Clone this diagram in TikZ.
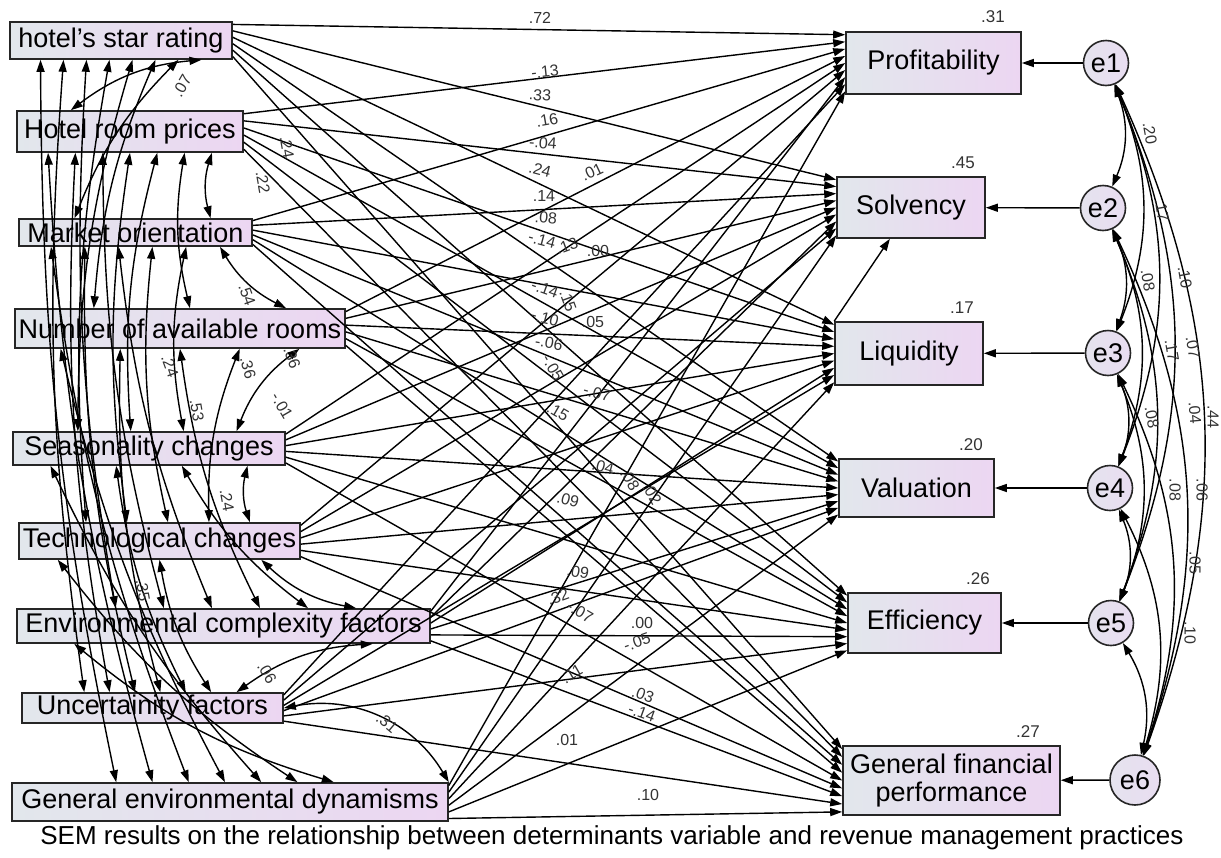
\documentclass[tikz,border=0pt]{standalone}
\usepackage{fontspec}
\setmainfont{Liberation Sans}
\usetikzlibrary{arrows.meta,calc}

\definecolor{boxleft}{HTML}{E2E7EC}
\definecolor{boxright}{HTML}{ECD6F2}
\definecolor{errfill}{HTML}{E9DDF1}
\definecolor{coefgray}{HTML}{333333}

\tikzset{
  obsbox/.style={draw=black!85, line width=0.8pt, left color=boxleft, right color=boxright,
                 inner sep=0pt, font=\fontsize{13.5}{15}\selectfont},
  errcirc/.style={circle, draw=black!85, line width=0.8pt, left color=boxleft!60!errfill, right color=errfill,
                  inner sep=0pt, minimum size=22.5pt, font=\fontsize{13.5}{15}\selectfont},
  regpath/.style={-{Triangle[length=6pt,width=4pt]}, line width=0.7pt},
  covpath/.style={{Triangle[length=6pt,width=4pt]}-{Triangle[length=6pt,width=4pt]}, line width=0.7pt},
  coef/.style={font=\fontsize{8}{9}\selectfont, text=coefgray, inner sep=0.5pt},
  rsq/.style={font=\fontsize{8.5}{9}\selectfont, text=coefgray, inner sep=0.5pt},
}

\begin{document}
\begin{tikzpicture}[x=0.5pt, y=-0.5pt]
\useasboundingbox (0,0) rectangle (1221,857);

% determinants (left column)
\node[obsbox, minimum width=111pt, minimum height=18.5pt] (b1) at (121,40.5) {hotel's star rating};
\node[obsbox, minimum width=113pt, minimum height=20.5pt] (b2) at (130,131.5) {Hotel room prices};
\node[obsbox, minimum width=116.5pt, minimum height=13.5pt] (b3) at (135.5,232.5) {Market orientation};
\node[obsbox, minimum width=165pt, minimum height=19.5pt] (b4) at (180,328.5) {Number of available rooms};
\node[obsbox, minimum width=136pt, minimum height=16.5pt] (b5) at (149,448.5) {Seasonality changes};
\node[obsbox, minimum width=140.5pt, minimum height=18pt] (b6) at (159.5,541) {Technological changes};
\node[obsbox, minimum width=206.5pt, minimum height=17pt] (b7) at (223.5,626) {Environmental complexity factors};
\node[obsbox, minimum width=130.5pt, minimum height=15pt] (b8) at (152.5,708) {Uncertainity factors};
\node[obsbox, minimum width=218pt, minimum height=19pt] (b9) at (230,802) {General environmental dynamisms};

% revenue management practices (right column)
\node[obsbox, minimum width=87.5pt, minimum height=31pt] (t1) at (933.5,63) {Profitability};
\node[obsbox, minimum width=74pt, minimum height=30.5pt] (t2) at (911,207.5) {Solvency};
\node[obsbox, minimum width=74pt, minimum height=31.5pt] (t3) at (909,353.5) {Liquidity};
\node[obsbox, minimum width=77.5pt, minimum height=29pt] (t4) at (916.5,488) {Valuation};
\node[obsbox, minimum width=76.5pt, minimum height=30pt] (t5) at (924.5,623) {Efficiency};
\node[obsbox, minimum width=108.5pt, minimum height=34.5pt, align=center] (t6) at (951.5,780.5) {General financial\\[-1pt]performance};

% error terms
\node[errcirc] (e1) at (1106,63) {e1};
\node[errcirc] (e2) at (1103,208) {e2};
\node[errcirc] (e3) at (1108,353) {e3};
\node[errcirc] (e4) at (1110,488) {e4};
\node[errcirc] (e5) at (1111,623) {e5};
\node[errcirc, minimum size=25pt] (e6) at (1135,780) {e6};

% squared multiple correlations
\node[rsq] (r1) at (993,17) {.31};
\node[rsq] (r2) at (963,163) {.45};
\node[rsq] (r3) at (962,308) {.17};
\node[rsq] (r4) at (971,445) {.20};
\node[rsq] (r5) at (978,579) {.26};
\node[rsq] (r6) at (1028,732) {.27};

% regression paths
\foreach \i in {1,...,9}{
  \foreach \k in {1,...,6}{
    \draw[regpath] ($(b\i.north east)!{(\k-0.5)/6}!(b\i.south east)$)
                -- ($(t\k.north west)!{(\i-0.5)/9}!(t\k.south west)$);
  }
}
\draw[regpath] (t3.north west) -- (t2);

% error paths
\foreach \k in {1,...,6}
  \draw[regpath] (e\k) -- (t\k);

% covariances between determinants
\foreach \i in {1,...,7}{
  \pgfmathtruncatemacro{\ii}{\i+1}
  \foreach \j in {\ii,...,9}{
    \pgfmathsetmacro{\fs}{0.14+0.72*(9-\j)/max(8-\i,1)}
    \pgfmathsetmacro{\fe}{0.24+0.58*(\i-1)/max(\j-2,1)}
    \pgfmathsetmacro{\bd}{16/sqrt(\j-\i)}
    \draw[covpath] ($(b\i.south west)!\fs!(b\i.south east)$) to[bend right=\bd]
                   ($(b\j.north west)!\fe!(b\j.north east)$);
  }
}
\draw[covpath] (b8.east) to[bend left=35] (b9.north east);

% covariances between error terms
\foreach \i in {1,...,5}{
  \pgfmathtruncatemacro{\ii}{\i+1}
  \foreach \j in {\ii,...,6}{
    \draw[covpath] (e\i) to[bend left=22] (e\j);
  }
}

% path coefficients
\foreach \x/\y/\r/\t [count=\n] in {540/18/0/.72, 545/72/6/-.13, 540/95/-4/.33, 547/120/10/.16,
    543/143/-4/-.04, 540/170/-15/.24, 592/172/25/.01, 544/196/0/.14, 546/218/-5/.08,
    542/240/-15/-.14, 567/246/20/.13, 598/251/0/.00, 545/289/-20/-.14, 568/301/-70/.15,
    545/318/-15/-.10, 593/322/0/.05, 549/343/-10/-.06, 553/368/-60/-.05, 597/393/-15/-.07,
    558/412/-30/.15, 603/467/-15/.04, 630/480/-60/.08, 652/494/-60/.02, 568/500/-15/.09,
    578/572/-10/.09, 558/597/20/.32, 580/612/-30/-.07, 642/623/0/.00, 637/642/20/-.05,
    572/674/30/.11, 643/695/-20/.03, 642/713/-20/-.14, 567/740/0/.01, 648/795/0/.10}
  \node[coef, rotate=\r] (pc\n) at (\x,\y) {\t};

% covariance coefficients
\foreach \x/\y/\r/\t [count=\n] in {182/86/60/.07, 287/147/-80/.24, 263/182/-80/.22,
    170/366/-70/.24, 197/410/-80/.53, 248/368/-75/.36, 247/295/-70/.54, 292/358/-70/.36,
    282/406/-60/-.01, 227/500/-80/.24, 143/590/-80/.35, 267/673/-60/.06, 387/723/-40/.31,
    1150/133/-80/.20, 1162/210/-80/.17, 1185/277/-80/.10, 1148/280/-80/.08, 1193/347/-80/.07,
    1172/350/-80/.17, 1195/413/-85/.04, 1213/417/-90/.44, 1152/417/-80/.08, 1175/490/-90/.08,
    1202/490/-90/.06, 1195/563/-90/.05, 1190/633/-90/.10}
  \node[coef, rotate=\r] (cc\n) at (\x,\y) {\t};

% caption
\node[font=\fontsize{13}{15}\selectfont, inner sep=0pt] (caption) at (612,838)
  {SEM results on the relationship between determinants variable and revenue management practices};

\end{tikzpicture}
\end{document}
